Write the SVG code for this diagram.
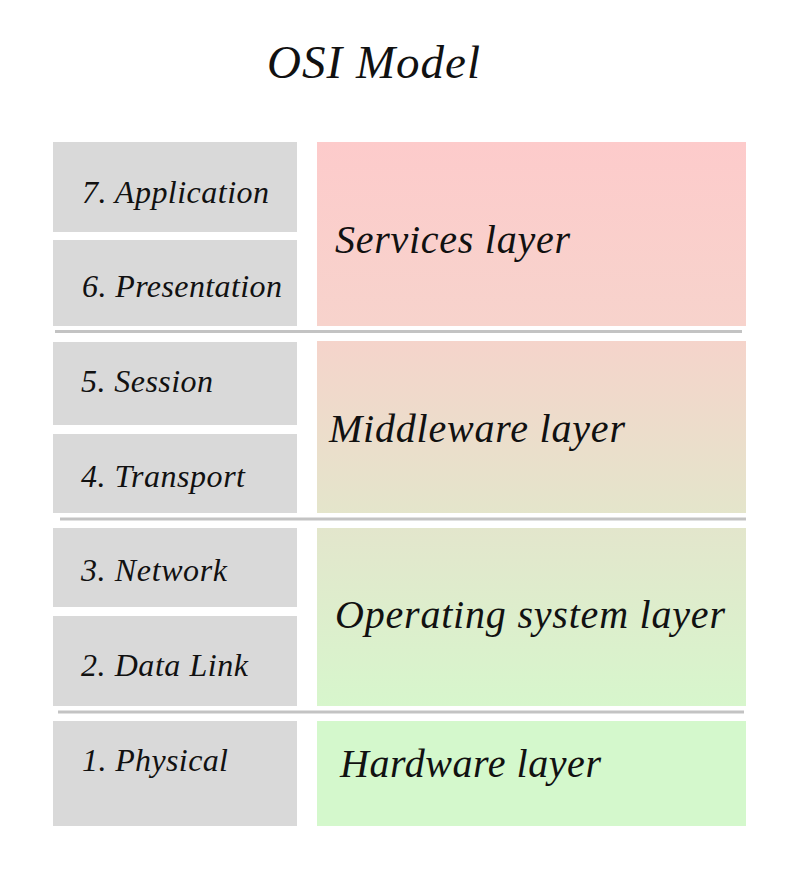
<svg xmlns="http://www.w3.org/2000/svg" width="800" height="886" viewBox="0 0 800 886">
<defs>
<linearGradient id="gServ" x1="0" y1="0" x2="0" y2="1"><stop offset="0" stop-color="#fdcbcb"/><stop offset="1" stop-color="#f7d3cc"/></linearGradient>
<linearGradient id="gMid" x1="0" y1="0" x2="0" y2="1"><stop offset="0" stop-color="#f5d4cb"/><stop offset="1" stop-color="#e4e5cb"/></linearGradient>
<linearGradient id="gOS" x1="0" y1="0" x2="0" y2="1"><stop offset="0" stop-color="#e3e6cc"/><stop offset="1" stop-color="#d7f6cc"/></linearGradient>
<style>
.lay{fill:#d9d9d9}
.t{font-family:"Liberation Serif","Times New Roman",serif;font-style:italic;fill:#111}
.l{font-size:32px}
.r{font-size:40px}
.sep{stroke:#c3c3c3;stroke-width:3;fill:none}
</style>
</defs>
<rect width="800" height="886" fill="#ffffff"/>
<text id="title" class="t" x="267" y="78" font-size="47" textLength="213">OSI Model</text>

<g id="layer7"><rect class="lay" x="53" y="142" width="244" height="90"/><text class="t l" x="82" y="203" textLength="187">7. Application</text></g>
<g id="layer6"><rect class="lay" x="53" y="240" width="244" height="86"/><text class="t l" x="82" y="297" textLength="200">6. Presentation</text></g>
<g id="layer5"><rect class="lay" x="53" y="342" width="244" height="83"/><text class="t l" x="81" y="392" textLength="132">5. Session</text></g>
<g id="layer4"><rect class="lay" x="53" y="434" width="244" height="79"/><text class="t l" x="81" y="487" textLength="164">4. Transport</text></g>
<g id="layer3"><rect class="lay" x="53" y="528" width="244" height="79"/><text class="t l" x="81" y="581" textLength="146">3. Network</text></g>
<g id="layer2"><rect class="lay" x="53" y="616" width="244" height="90"/><text class="t l" x="81" y="676" textLength="167">2. Data Link</text></g>
<g id="layer1"><rect class="lay" x="53" y="721" width="244" height="105"/><text class="t l" x="82" y="771" textLength="146">1. Physical</text></g>

<g id="services"><rect x="317" y="142" width="429" height="184" fill="url(#gServ)"/><text class="t r" x="335" y="253" textLength="235">Services layer</text></g>
<g id="middleware"><rect x="317" y="341" width="429" height="172" fill="url(#gMid)"/><text class="t r" x="329" y="442" textLength="296">Middleware layer</text></g>
<g id="os"><rect x="317" y="528" width="429" height="178" fill="url(#gOS)"/><text class="t r" x="335" y="628" textLength="390">Operating system layer</text></g>
<g id="hardware"><rect x="317" y="721" width="429" height="105" fill="#d4f8cc"/><text class="t r" x="340" y="777" textLength="261">Hardware layer</text></g>

<g id="separators">
<line class="sep" x1="55" y1="331.5" x2="742" y2="331.5"/>
<line class="sep" x1="60" y1="519" x2="746" y2="519"/>
<line class="sep" x1="58" y1="712" x2="744" y2="712"/>
</g>
</svg>
